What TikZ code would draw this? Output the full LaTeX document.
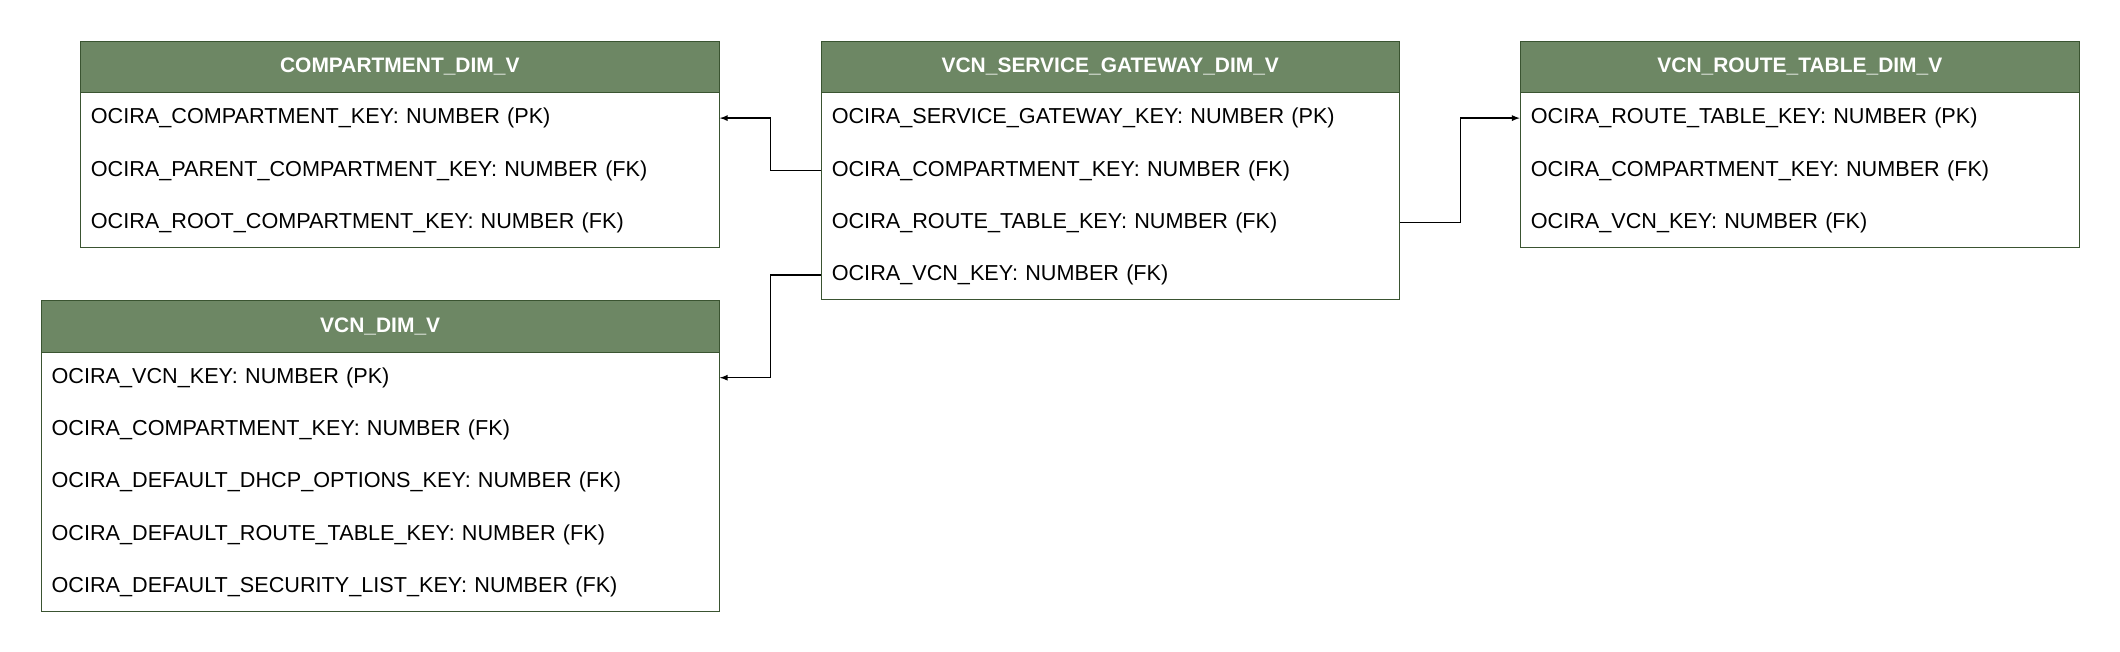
\documentclass[tikz,border=0pt]{standalone}
\usepackage{fontspec}
\setmainfont{Liberation Sans}
\usetikzlibrary{positioning}
\definecolor{hdrfill}{HTML}{6D8764}
\definecolor{hdrline}{HTML}{3A5431}
\begin{document}
\begin{tikzpicture}[x=1pt, y=-1pt, >=latex,
    hdr/.style={draw=hdrline, fill=hdrfill, text=white, font=\fontsize{15.5}{18}\selectfont\bfseries,
        minimum width=#1, minimum height=38pt, inner sep=0pt, anchor=north west},
    body/.style={draw=hdrline, fill=white, minimum width=#1, inner sep=0pt, anchor=north west},
    row/.style={minimum width=#1, minimum height=38.3pt, inner sep=0pt, anchor=north west,
        text width=#1-16pt, align=left, font=\fontsize{16}{19}\selectfont},
    link/.style={draw=black, line width=1pt, ->}]
    \useasboundingbox (0,0) rectangle (1568,482);

    % COMPARTMENT_DIM_V
    \node[body=473pt, minimum height=115pt] (abox) at (59,68) {};
    \node[hdr=473pt] (a) at (59,30) {COMPARTMENT\_DIM\_V};
    \node[row=473pt] (a1) at (59,68) {OCIRA\_COMPARTMENT\_KEY: NUMBER (PK)};
    \node[row=473pt, below=0pt of a1] (a2) {OCIRA\_PARENT\_COMPARTMENT\_KEY: NUMBER (FK)};
    \node[row=473pt, below=0pt of a2] (a3) {OCIRA\_ROOT\_COMPARTMENT\_KEY: NUMBER (FK)};

    % VCN_SERVICE_GATEWAY_DIM_V
    \node[body=428pt, minimum height=153pt] (bbox) at (607,68) {};
    \node[hdr=428pt] (b) at (607,30) {VCN\_SERVICE\_GATEWAY\_DIM\_V};
    \node[row=428pt] (b1) at (607,68) {OCIRA\_SERVICE\_GATEWAY\_KEY: NUMBER (PK)};
    \node[row=428pt, below=0pt of b1] (b2) {OCIRA\_COMPARTMENT\_KEY: NUMBER (FK)};
    \node[row=428pt, below=0pt of b2] (b3) {OCIRA\_ROUTE\_TABLE\_KEY: NUMBER (FK)};
    \node[row=428pt, below=0pt of b3] (b4) {OCIRA\_VCN\_KEY: NUMBER (FK)};

    % VCN_ROUTE_TABLE_DIM_V
    \node[body=414pt, minimum height=115pt] (cbox) at (1124,68) {};
    \node[hdr=414pt] (c) at (1124,30) {VCN\_ROUTE\_TABLE\_DIM\_V};
    \node[row=414pt] (c1) at (1124,68) {OCIRA\_ROUTE\_TABLE\_KEY: NUMBER (PK)};
    \node[row=414pt, below=0pt of c1] (c2) {OCIRA\_COMPARTMENT\_KEY: NUMBER (FK)};
    \node[row=414pt, below=0pt of c2] (c3) {OCIRA\_VCN\_KEY: NUMBER (FK)};

    % VCN_DIM_V
    \node[body=502pt, minimum height=192pt] (dbox) at (30,260) {};
    \node[hdr=502pt] (d) at (30,222) {VCN\_DIM\_V};
    \node[row=502pt] (d1) at (30,260) {OCIRA\_VCN\_KEY: NUMBER (PK)};
    \node[row=502pt, below=0pt of d1] (d2) {OCIRA\_COMPARTMENT\_KEY: NUMBER (FK)};
    \node[row=502pt, below=0pt of d2] (d3) {OCIRA\_DEFAULT\_DHCP\_OPTIONS\_KEY: NUMBER (FK)};
    \node[row=502pt, below=0pt of d3] (d4) {OCIRA\_DEFAULT\_ROUTE\_TABLE\_KEY: NUMBER (FK)};
    \node[row=502pt, below=0pt of d4] (d5) {OCIRA\_DEFAULT\_SECURITY\_LIST\_KEY: NUMBER (FK)};

    \draw[link] (b2.west) -- ++(-37,0) |- (a1.east);
    \draw[link] (b4.west) -- ++(-37,0) |- (d1.east);
    \draw[link] (b3.east) -- ++(45,0) |- (c1.west);
\end{tikzpicture}
\end{document}
